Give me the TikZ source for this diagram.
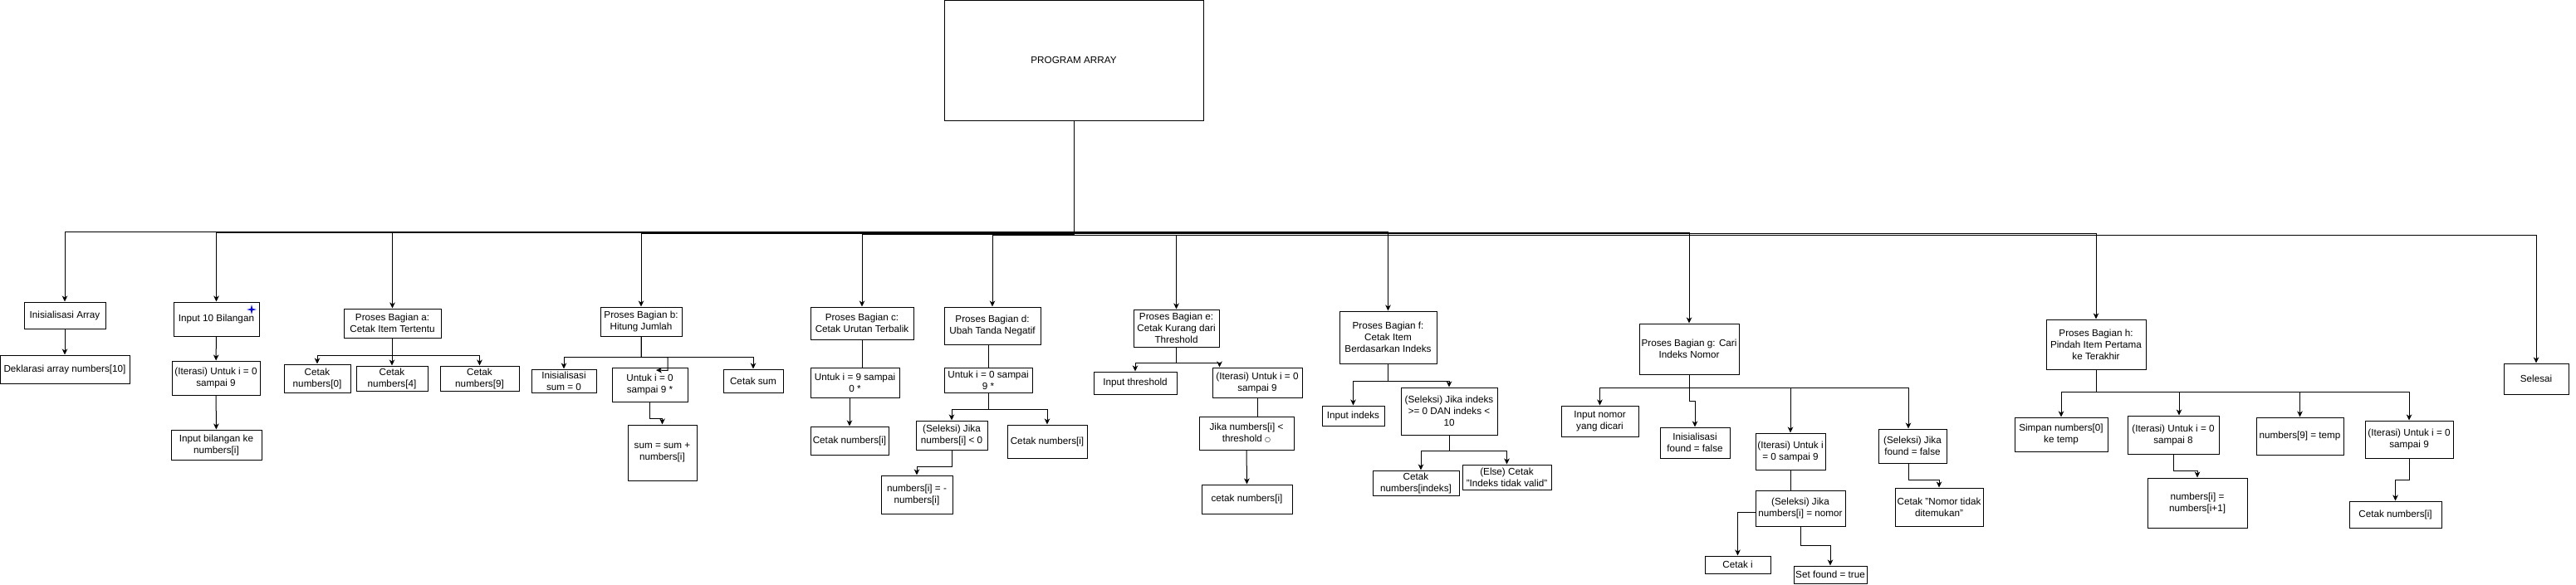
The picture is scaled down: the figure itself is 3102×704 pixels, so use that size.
\documentclass[tikz,border=0pt]{standalone}
\usepackage{fontspec}
\setmainfont{Liberation Sans}
\newfontfamily\symfont{DejaVu Sans}
\usetikzlibrary{arrows.meta,calc}
\begin{document}
\begin{tikzpicture}[x=1pt,y=-1pt,
  box/.style={draw, line width=1pt, align=center, inner sep=0pt, font=\fontsize{11.7}{14}\selectfont},
  arr/.style={line width=1pt, -{Stealth[length=7pt,width=6.5pt,inset=2pt]}},
  ln/.style={line width=1pt}]
\useasboundingbox (0,0) rectangle (3102,704);
% top
\node[box, minimum width=312pt, minimum height=145pt] (top) at (1293,72.5) {PROGRAM ARRAY};
% first column
\node[box, minimum width=98pt, minimum height=32pt] (ia) at (78,380) {Inisialisasi Array};
\node[box, minimum width=156pt, minimum height=34pt] (dek) at (78,445) {Deklarasi array numbers[10]};
\node[box, minimum width=103pt, minimum height=41pt] (in10) at (260.5,384.5) {Input 10 Bilangan};
\node[box, minimum width=106pt, minimum height=41pt] (it10) at (260,455.5) {(Iterasi) Untuk i = 0\\sampai 9};
\node[box, minimum width=109pt, minimum height=36pt] (inb) at (260.5,536) {Input bilangan ke\\numbers[i]};
\fill[blue!85!black] (303,367) -- (304.1,371.9) -- (309,373) -- (304.1,374.1) -- (303,379) -- (301.9,374.1) -- (297,373) -- (301.9,371.9) -- cycle;
% a
\node[box, minimum width=117pt, minimum height=35pt] (pa) at (472.5,389.5) {Proses Bagian a:\\Cetak Item Tertentu};
\node[box, minimum width=80pt, minimum height=34pt] (a0) at (382,456) {Cetak\\numbers[0]};
\node[box, minimum width=86pt, minimum height=30pt] (a4) at (472,456) {Cetak\\numbers[4]};
\node[box, minimum width=95pt, minimum height=30pt] (a9) at (577.5,456) {Cetak\\numbers[9]};
% b
\node[box, minimum width=98pt, minimum height=35pt] (pb) at (772,387.5) {Proses Bagian b:\\Hitung Jumlah};
\node[box, minimum width=78pt, minimum height=28pt] (bs0) at (679,459) {Inisialisasi\\sum = 0};
\node[box, minimum width=91pt, minimum height=41pt] (bu) at (782.5,463.5) {Untuk i = 0\\sampai 9 *};
\node[box, minimum width=72pt, minimum height=28pt] (bcs) at (907,459) {Cetak sum};
\node[box, minimum width=83pt, minimum height=67pt] (bsum) at (797.5,545.5) {sum = sum +\\numbers[i]};
\coordinate (bux) at (790,446);
% c
\node[box, minimum width=124pt, minimum height=39pt] (pc) at (1038,389.5) {Proses Bagian c:\\Cetak Urutan Terbalik};
\node[box, minimum width=107pt, minimum height=36pt] (cu) at (1029.5,461) {Untuk i = 9 sampai\\0 *};
\node[box, minimum width=94pt, minimum height=34pt] (cc) at (1023,531) {Cetak numbers[i]};
% d
\node[box, minimum width=116pt, minimum height=45pt] (pd) at (1195,392.5) {Proses Bagian d:\\Ubah Tanda Negatif};
\node[box, minimum width=106pt, minimum height=30pt] (du) at (1190,458) {Untuk i = 0 sampai\\9 *};
\node[box, minimum width=86pt, minimum height=35pt] (ds) at (1146,524.5) {(Seleksi) Jika\\numbers[i] < 0};
\node[box, minimum width=96pt, minimum height=40pt] (dc) at (1261,532) {Cetak numbers[i]};
\node[box, minimum width=86pt, minimum height=46pt] (dn) at (1104,596) {numbers[i] = -\\numbers[i]};
% e
\node[box, minimum width=103pt, minimum height=45pt] (pe) at (1416.5,395.5) {Proses Bagian e:\\Cetak Kurang dari\\Threshold};
\node[box, minimum width=100pt, minimum height=27pt] (ein) at (1367,461.5) {Input threshold};
\node[box, minimum width=108pt, minimum height=36pt] (eit) at (1514,461) {(Iterasi) Untuk i = 0\\sampai 9};
\node[box, minimum width=114pt, minimum height=40pt] (ej) at (1501,522) {Jika numbers[i] <\\threshold {\symfont\fontsize{8}{10}\selectfont ○}};
\node[box, minimum width=109pt, minimum height=35pt] (ec) at (1501.5,601.5) {cetak numbers[i]};
% f
\node[box, minimum width=117pt, minimum height=63pt] (pf) at (1671.5,406.5) {Proses Bagian f:\\Cetak Item\\Berdasarkan Indeks};
\node[box, minimum width=75pt, minimum height=24pt] (fin) at (1629.5,501) {Input indeks};
\node[box, minimum width=116pt, minimum height=57pt] (fs) at (1745,495.5) {(Seleksi) Jika indeks\\>= 0 DAN indeks <\\10};
\node[box, minimum width=104pt, minimum height=30pt] (fc) at (1705,582) {Cetak\\numbers[indeks]};
\node[box, minimum width=107pt, minimum height=30pt] (fe) at (1814.5,575) {(Else) Cetak\\"Indeks tidak valid"};
% g
\node[box, minimum width=120pt, minimum height=61pt] (pg) at (2034,420.5) {Proses Bagian g: Cari\\Indeks Nomor};
\node[box, minimum width=93pt, minimum height=37pt] (gin) at (1926.5,507.5) {Input nomor\\yang dicari};
\node[box, minimum width=84pt, minimum height=37pt] (gif) at (2041,533.5) {Inisialisasi\\found = false};
\node[box, minimum width=84pt, minimum height=44pt] (git) at (2156,544) {(Iterasi) Untuk i\\= 0 sampai 9};
\node[box, minimum width=108pt, minimum height=43pt] (gs) at (2168,612.5) {(Seleksi) Jika\\numbers[i] = nomor};
\node[box, minimum width=79pt, minimum height=21pt] (gci) at (2092.5,680.5) {Cetak i};
\node[box, minimum width=88pt, minimum height=21pt] (gsf) at (2204,692.5) {Set found = true};
\node[box, minimum width=82pt, minimum height=41pt] (gsel) at (2303,537.5) {(Seleksi) Jika\\found = false};
\node[box, minimum width=106pt, minimum height=46pt] (gnt) at (2335,611) {Cetak "Nomor tidak\\ditemukan"};
% h
\node[box, minimum width=120pt, minimum height=60pt] (ph) at (2524,415) {Proses Bagian h:\\Pindah Item Pertama\\ke Terakhir};
\node[box, minimum width=112pt, minimum height=41pt] (hs) at (2482,523.5) {Simpan numbers[0]\\ke temp};
\node[box, minimum width=110pt, minimum height=46pt] (hit) at (2617,524) {(Iterasi) Untuk i = 0\\sampai 8};
\node[box, minimum width=120pt, minimum height=60pt] (hn) at (2646,606) {numbers[i] =\\numbers[i+1]};
\node[box, minimum width=105pt, minimum height=45pt] (h9) at (2769.5,525.5) {numbers[9] = temp};
\node[box, minimum width=106pt, minimum height=45pt] (hit9) at (2901,529.5) {(Iterasi) Untuk i = 0\\sampai 9};
\node[box, minimum width=111pt, minimum height=32pt] (hc) at (2884.5,620) {Cetak numbers[i]};
% end
\node[box, minimum width=78pt, minimum height=37pt] (sel) at (3054,456.5) {Selesai};

% level 1 connectors
\draw[arr] (top.south) -- ++(0,134) -| (ia.north);
\draw[arr] (top.south) -- ++(0,135) -| (in10.north);
\draw[arr] (top.south) -- ++(0,134) -| (pa.north);
\draw[arr] (top.south) -- ++(0,136) -| (pb.north);
\draw[arr] (top.south) -- ++(0,137) -| (pc.north);
\draw[arr] (top.south) -- ++(0,138) -| (pd.north);
\draw[arr] (top.south) -- ++(0,138) -| (pe.north);
\draw[arr] (top.south) -- ++(0,134) -| (pf.north);
\draw[arr] (top.south) -- ++(0,135) -| (pg.north);
\draw[arr] (top.south) -- ++(0,136) -| (ph.north);
\draw[arr] (top.south) -- ++(0,138) -| (sel.north);
% column 1
\draw[arr] (ia) -- (dek);
\draw[arr] (in10) -- (it10);
\draw[arr] (it10) -- (inb);
% a
\draw[arr] (pa.south) -- ++(0,21) -| (a0.north);
\draw[arr] (pa.south) -- ++(0,21) -| (a4.north);
\draw[arr] (pa.south) -- ++(0,21) -| (a9.north);
% b
\draw[arr] (pb.south) -- ++(0,25) -| (bs0.north);
\draw[arr] (pb.south) -- ++(0,25) -| (bcs.north);
\draw[arr] (pb.south) -- ++(0,25) -- ++(32,0) -- ++(0,16) -- (bux);
\draw[arr] (bu.south) -- ++(0,20) -| (bsum.north);
% c
\draw[ln] (pc.south) -- (pc.south |- cu.north);
\draw[arr] (cu.south -| cc.north) -- (cc.north);
% d
\draw[ln] (du.north |- pd.south) -- (du.north);
\draw[arr] (du.south) -- ++(0,20) -| (ds.north);
\draw[arr] (du.south) -- ++(0,20) -| (dc.north);
\draw[arr] (ds.south) -- ++(0,20) -| (dn.north);
% e
\draw[arr] (pe.south) -- ++(0,19) -| (ein.north);
\draw[arr] (pe.south) -- ++(0,19) -| ($(eit.north west)+(9,0)$);
\draw[ln] (eit.south) -- (eit.south |- ej.north);
\draw[arr] (ej.south) -- (ec.north);
% f
\draw[arr] (pf.south) -- ++(0,21) -| (fin.north);
\draw[arr] (pf.south) -- ++(0,21) -| (fs.north);
\draw[arr] (fs.south) -- ++(0,19) -| ($(fc.north)+(6,0)$);
\draw[arr] (fs.south) -- ++(0,19) -| (fe.north);
% g
\draw[arr] (pg.south) -- ++(0,16) -| (gin.north);
\draw[arr] (pg.south) -- ++(0,32) -| (gif.north);
\draw[arr] (pg.south) -- ++(0,16) -| (git.north);
\draw[arr] (pg.south) -- ++(0,16) -| ($(gsel.north)+(-5,0)$);
\draw[ln] (git.south) -- (git.south |- gs.north);
\draw[arr] ($(gs.west)+(0,5)$) -| (gci.north);
\draw[arr] (gs.south) -- ++(0,23) -| (gsf.north);
\draw[arr] ($(gsel.south)+(-5,0)$) -- ++(0,20) -| (gnt.north);
% h
\draw[arr] (ph.south) -- ++(0,27) -| (hs.north);
\draw[arr] (ph.south) -- ++(0,27) -| ($(hit.north)+(7,0)$);
\draw[arr] (ph.south) -- ++(0,27) -| (h9.north);
\draw[arr] (ph.south) -- ++(0,27) -| (hit9.north);
\draw[arr] (hit.south) -- ++(0,20) -| (hn.north);
\draw[arr] (hit9.south) -- ++(0,26) -| (hc.north);
\end{tikzpicture}
\end{document}
